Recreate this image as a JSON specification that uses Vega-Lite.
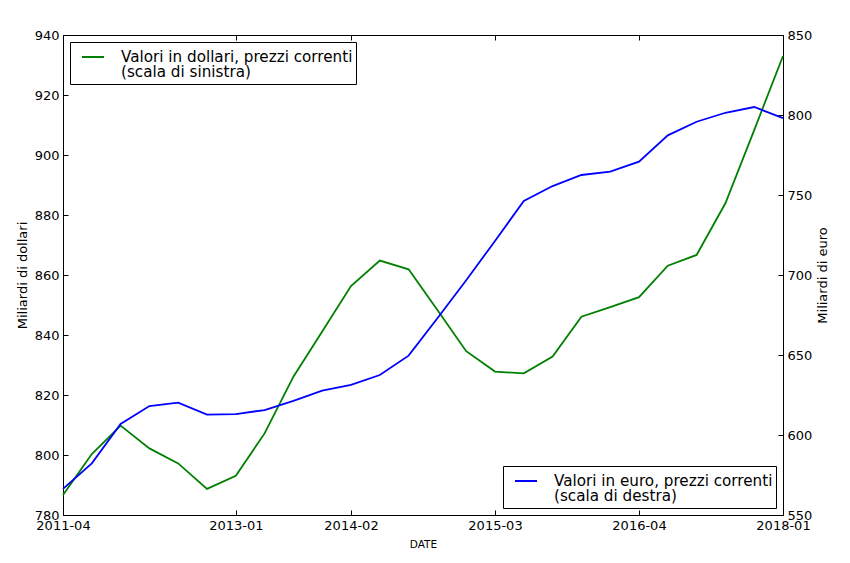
{
  "$schema": "https://vega.github.io/schema/vega-lite/v6.json",
  "width": 720,
  "height": 480,
  "autosize": {"type": "none"},
  "padding": {"left": 63, "top": 35, "right": 67, "bottom": 48},
  "background": "white",
  "config": {
    "font": "DejaVu Sans",
    "view": {"stroke": "black", "strokeWidth": 1},
    "axis": {
      "labelFont": "DejaVu Sans",
      "labelFontSize": 13,
      "labelColor": "black",
      "titleFont": "DejaVu Sans",
      "titleFontSize": 13,
      "titleFontWeight": "normal",
      "titleColor": "black",
      "domainColor": "black",
      "tickColor": "black",
      "grid": false,
      "tickSize": -5,
      "labelPadding": 9,
      "labelFlush": false,
      "labelOverlap": false
    },
    "legend": {
      "title": null,
      "strokeColor": "black",
      "fillColor": "white",
      "padding": 3,
      "cornerRadius": 0,
      "symbolType": "stroke",
      "symbolSize": 484,
      "symbolStrokeWidth": 2,
      "symbolOffset": 8,
      "labelFont": "DejaVu Sans",
      "labelFontSize": 15.2,
      "labelColor": "black",
      "labelLimit": 600,
      "labelOffset": 16,
      "offset": 7
    }
  },
  "data": {
    "values": [
      {"DATE": "2011-04", "usd": 786.7, "eur": 566.3},
      {"DATE": "2011-07", "usd": 800.3, "eur": 582.3},
      {"DATE": "2011-11", "usd": 809.8, "eur": 606.9},
      {"DATE": "2012-02", "usd": 802.2, "eur": 618.1},
      {"DATE": "2012-06", "usd": 797.2, "eur": 620.2},
      {"DATE": "2012-09", "usd": 788.7, "eur": 612.7},
      {"DATE": "2013-01", "usd": 793.1, "eur": 613.1},
      {"DATE": "2013-04", "usd": 807.2, "eur": 615.6},
      {"DATE": "2013-07", "usd": 826.1, "eur": 621.3},
      {"DATE": "2013-11", "usd": 841.2, "eur": 627.7},
      {"DATE": "2014-02", "usd": 856.3, "eur": 631.3},
      {"DATE": "2014-05", "usd": 864.8, "eur": 637.5},
      {"DATE": "2014-07", "usd": 861.9, "eur": 649.6},
      {"DATE": "2014-10", "usd": 848.3, "eur": 673.0},
      {"DATE": "2015-01", "usd": 834.6, "eur": 696.7},
      {"DATE": "2015-03", "usd": 827.8, "eur": 721.3},
      {"DATE": "2015-06", "usd": 827.2, "eur": 746.3},
      {"DATE": "2015-08", "usd": 832.8, "eur": 755.6},
      {"DATE": "2015-11", "usd": 846.1, "eur": 762.5},
      {"DATE": "2016-02", "usd": 849.3, "eur": 764.6},
      {"DATE": "2016-04", "usd": 852.6, "eur": 770.8},
      {"DATE": "2016-08", "usd": 863.1, "eur": 787.3},
      {"DATE": "2016-12", "usd": 866.7, "eur": 795.8},
      {"DATE": "2017-05", "usd": 883.9, "eur": 801.4},
      {"DATE": "2017-09", "usd": 908.3, "eur": 805.0},
      {"DATE": "2018-01", "usd": 933.0, "eur": 798.0}
    ]
  },
  "layer": [
    {
      "mark": {"type": "line", "strokeWidth": 1.8},
      "encoding": {
        "x": {
          "field": "DATE",
          "type": "ordinal",
          "sort": null,
          "scale": {"type": "point", "padding": 0},
          "axis": {
            "orient": "bottom",
            "values": ["2011-04", "2013-01", "2014-02", "2015-03", "2016-04", "2018-01"],
            "labelAngle": 0,
            "title": "DATE",
            "titleFontSize": 10.5,
            "titlePadding": 7
          }
        },
        "y": {
          "field": "usd",
          "type": "quantitative",
          "scale": {"domain": [780, 940], "nice": false, "zero": false},
          "axis": {
            "orient": "left",
            "values": [780, 800, 820, 840, 860, 880, 900, 920, 940],
            "title": "Miliardi di dollari",
            "titlePadding": 5
          }
        },
        "color": {
          "datum": "Valori in dollari, prezzi correnti|(scala di sinistra)",
          "scale": {"range": ["#008000"]},
          "legend": {
            "orient": "top-left",
            "labelExpr": "split(datum.label, '|')",
            "encode": {"labels": {"update": {"lineHeight": {"value": 15}}}}
          }
        }
      }
    },
    {
      "mark": {"type": "line", "strokeWidth": 1.8},
      "encoding": {
        "x": {
          "field": "DATE",
          "type": "ordinal",
          "sort": null,
          "scale": {"type": "point", "padding": 0},
          "axis": {
            "orient": "top",
            "values": ["2011-04", "2013-01", "2014-02", "2015-03", "2016-04", "2018-01"],
            "labels": false,
            "title": null
          }
        },
        "y": {
          "field": "eur",
          "type": "quantitative",
          "scale": {"domain": [550, 850], "nice": false, "zero": false},
          "axis": {
            "orient": "right",
            "values": [550, 600, 650, 700, 750, 800, 850],
            "title": "Miliardi di euro",
            "titleAngle": 270,
            "titlePadding": 18
          }
        },
        "color": {
          "datum": "Valori in euro, prezzi correnti|(scala di destra)",
          "scale": {"range": ["#0000ff"]},
          "legend": {
            "orient": "bottom-right",
            "labelExpr": "split(datum.label, '|')",
            "encode": {"labels": {"update": {"lineHeight": {"value": 15}}}}
          }
        }
      }
    }
  ],
  "resolve": {
    "scale": {"y": "independent", "color": "independent"},
    "axis": {"x": "independent"}
  }
}
